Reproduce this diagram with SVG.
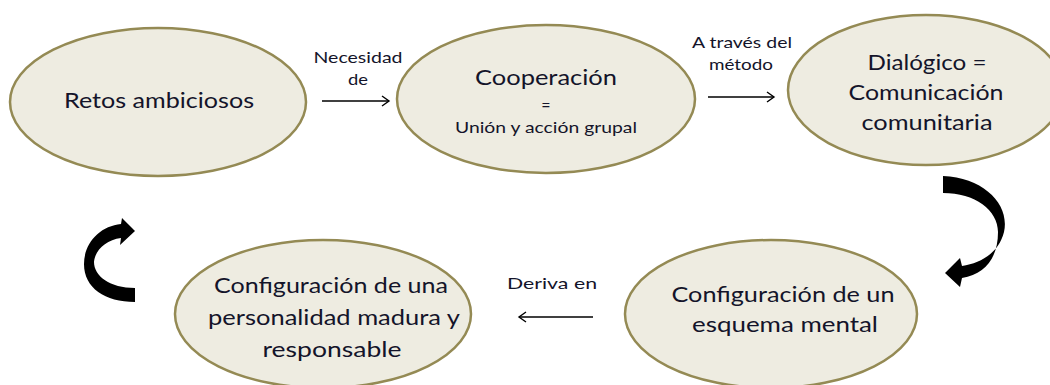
<svg xmlns="http://www.w3.org/2000/svg" width="1050" height="385" viewBox="0 0 1050 385">
<style>
.node ellipse{fill:#EEECE1;stroke:#948A54;stroke-width:2.5}
.t{font-family:Lato,"Liberation Sans",sans-serif;fill:#14142a;text-anchor:middle}
.big{font-size:22px}
.mid{font-size:16px}
.sm{font-size:16px}
.conn line{stroke:#000;stroke-width:1.4;fill:none}
.bend{fill:#000}
</style>
<defs>
<marker id="chev" markerUnits="userSpaceOnUse" markerWidth="12" markerHeight="14" refX="8" refY="6" orient="auto">
<path d="M1,1 L8,6 L1,11" fill="none" stroke="#000" stroke-width="1.4"/>
</marker>
</defs>
<rect width="1050" height="385" fill="#fff"/>
<g id="n1" class="node">
<ellipse cx="158" cy="102" rx="148" ry="74"/>
<text class="t big" x="159" y="108" textLength="190" lengthAdjust="spacingAndGlyphs">Retos ambiciosos</text>
</g>
<g id="n2" class="node">
<ellipse cx="546" cy="99" rx="149" ry="74"/>
<text class="t big" x="546" y="85" textLength="142" lengthAdjust="spacingAndGlyphs">Cooperación</text>
<text class="t mid" x="546" y="111">=</text>
<text class="t mid" x="546" y="133" textLength="182" lengthAdjust="spacingAndGlyphs">Unión y acción grupal</text>
</g>
<g id="n3" class="node">
<ellipse cx="926" cy="90" rx="138" ry="75"/>
<text class="t big" x="927" y="70" textLength="119" lengthAdjust="spacingAndGlyphs">Dialógico =</text>
<text class="t big" x="926" y="100" textLength="155" lengthAdjust="spacingAndGlyphs">Comunicación</text>
<text class="t big" x="927" y="130" textLength="131" lengthAdjust="spacingAndGlyphs">comunitaria</text>
</g>
<g id="n4" class="node">
<ellipse cx="771" cy="314" rx="146" ry="74"/>
<text class="t big" x="783" y="302" textLength="223" lengthAdjust="spacingAndGlyphs">Configuración de un</text>
<text class="t big" x="785" y="332" textLength="186" lengthAdjust="spacingAndGlyphs">esquema mental</text>
</g>
<g id="n5" class="node">
<ellipse cx="323" cy="314" rx="148" ry="74"/>
<text class="t big" x="331" y="293" textLength="234" lengthAdjust="spacingAndGlyphs">Configuración de una</text>
<text class="t big" x="334" y="325" textLength="252" lengthAdjust="spacingAndGlyphs">personalidad madura y</text>
<text class="t big" x="332" y="357" textLength="139" lengthAdjust="spacingAndGlyphs">responsable</text>
</g>
<g id="connectors" class="conn">
<line x1="322" y1="101" x2="389" y2="101" marker-end="url(#chev)"/>
<text class="t sm" x="358" y="63" textLength="89" lengthAdjust="spacingAndGlyphs">Necesidad</text>
<text class="t sm" x="358" y="85" textLength="20" lengthAdjust="spacingAndGlyphs">de</text>
<line x1="708" y1="97" x2="774" y2="97" marker-end="url(#chev)"/>
<text class="t sm" x="742" y="48" textLength="100" lengthAdjust="spacingAndGlyphs">A través del</text>
<text class="t sm" x="741" y="70" textLength="64" lengthAdjust="spacingAndGlyphs">método</text>
<line x1="593" y1="317" x2="519" y2="317" marker-end="url(#chev)"/>
<text class="t sm" x="552" y="289" textLength="90" lengthAdjust="spacingAndGlyphs">Deriva en</text>
<path class="bend" d="M943 176 C985 178 1010 205 1004 232 C999 252 982 263 962 266 L960 258 L945 273 L960 287 L962 278 C985 274 998 258 998 232 C998 210 975 193 943 193 Z"/>
<path class="bend" d="M135 302 C105 302 84 288 84 264 C84 243 100 226 121 224 L122 218 L135 231 L120 245 L121 238 C106 240 95 250 94 262 C94 276 110 288 135 288 Z"/>
</g>
</svg>
